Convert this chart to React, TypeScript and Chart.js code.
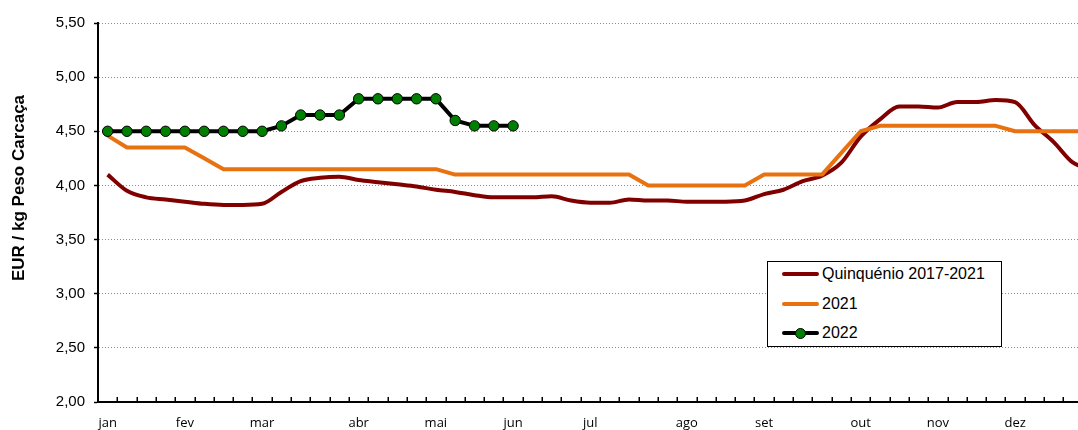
import React, { useEffect, useRef } from 'react';
import { Chart, registerables } from 'chart.js';

Chart.register(...registerables);

// ---- data ----
const WEEKS = 52;
const monthNames = ['jan', 'fev', 'mar', 'abr', 'mai', 'jun', 'jul', 'ago', 'set', 'out', 'nov', 'dez'];
const monthWeekIndex = [0, 4, 8, 13, 17, 21, 25, 30, 34, 39, 43, 47];

const quinquenio = [
  4.10, 3.95, 3.89, 3.87, 3.85, 3.83, 3.82, 3.82, 3.83, 3.94,
  4.04, 4.07, 4.08, 4.05, 4.03, 4.01, 3.99, 3.96, 3.94, 3.91,
  3.89, 3.89, 3.89, 3.90, 3.86, 3.84, 3.84, 3.87, 3.86, 3.86,
  3.85, 3.85, 3.85, 3.86, 3.92, 3.96, 4.04, 4.09, 4.21, 4.45,
  4.61, 4.73, 4.73, 4.72, 4.77, 4.77, 4.79, 4.77, 4.56, 4.40,
  4.21, 4.15,
];

const y2021 = [
  4.46, 4.35, 4.35, 4.35, 4.35, 4.25, 4.15, 4.15, 4.15, 4.15,
  4.15, 4.15, 4.15, 4.15, 4.15, 4.15, 4.15, 4.15, 4.10, 4.10,
  4.10, 4.10, 4.10, 4.10, 4.10, 4.10, 4.10, 4.10, 4.00, 4.00,
  4.00, 4.00, 4.00, 4.00, 4.10, 4.10, 4.10, 4.10, 4.30, 4.50,
  4.55, 4.55, 4.55, 4.55, 4.55, 4.55, 4.55, 4.50, 4.50, 4.50,
  4.50, 4.50,
];

const y2022 = [
  4.50, 4.50, 4.50, 4.50, 4.50, 4.50, 4.50, 4.50, 4.50, 4.55,
  4.65, 4.65, 4.65, 4.80, 4.80, 4.80, 4.80, 4.80, 4.60, 4.55,
  4.55, 4.55,
];

const seriesNames = ['Quinquénio 2017-2021', '2021', '2022'];
const yMin = 2.0;
const yMax = 5.5;
const yStep = 0.5;
const yTitle = 'EUR / kg Peso Carcaça';

// ---- styles ----
const COLOR_Q = '#800000';
const COLOR_21 = '#E8720F';
const COLOR_22_LINE = '#000000';
const COLOR_22_POINT = '#008000';

const weekLabels: string[] = Array.from({ length: WEEKS }, () => '');
monthWeekIndex.forEach((w, i) => {
  weekLabels[w] = monthNames[i];
});

const innerTicks = {
  id: 'innerTicks',
  afterDraw(chart: any) {
    const xs = chart.scales.x;
    const ctx = chart.ctx;
    const bottom = chart.chartArea.bottom;
    const p0 = xs.getPixelForValue(0);
    const step = xs.getPixelForValue(1) - p0;
    ctx.save();
    ctx.strokeStyle = '#000';
    ctx.lineWidth = 1.5;
    for (let i = 0; i <= WEEKS; i++) {
      const x = Math.round(p0 - step / 2 + i * step) + 0.25;
      ctx.beginPath();
      ctx.moveTo(x, bottom);
      ctx.lineTo(x, bottom - 5);
      ctx.stroke();
    }
    ctx.restore();
  },
};

const yTitlePlugin = {
  id: 'yTitleText',
  afterDraw(chart: any) {
    const ctx = chart.ctx;
    ctx.save();
    ctx.translate(19, 188);
    ctx.rotate(-Math.PI / 2);
    ctx.font = 'bold 17px "Liberation Sans"';
    ctx.fillStyle = '#000';
    ctx.textAlign = 'center';
    ctx.textBaseline = 'middle';
    ctx.fillText(yTitle, 0, 0);
    ctx.restore();
  },
};

const legendItems = [
  { name: seriesNames[0], color: COLOR_Q, marker: false, top: 264 },
  { name: seriesNames[1], color: COLOR_21, marker: false, top: 294 },
  { name: seriesNames[2], color: COLOR_22_LINE, marker: true, top: 323 },
];

export default function App() {
  const canvasRef = useRef<HTMLCanvasElement | null>(null);

  useEffect(() => {
    const canvas = canvasRef.current;
    if (!canvas) return;
    const chart = new Chart(canvas, {
      type: 'line',
      data: {
        labels: weekLabels,
        datasets: [
          {
            label: seriesNames[2],
            data: y2022,
            borderColor: COLOR_22_LINE,
            borderWidth: 4,
            pointRadius: 5.2,
            pointBackgroundColor: COLOR_22_POINT,
            pointBorderColor: '#000',
            pointBorderWidth: 1,
            tension: 0,
            order: 0,
          },
          {
            label: seriesNames[1],
            data: y2021,
            borderColor: COLOR_21,
            borderWidth: 4,
            pointRadius: 0,
            tension: 0,
            borderJoinStyle: 'round',
            order: 1,
          },
          {
            label: seriesNames[0],
            data: quinquenio,
            borderColor: COLOR_Q,
            borderWidth: 4,
            pointRadius: 0,
            cubicInterpolationMode: 'monotone',
            borderJoinStyle: 'round',
            order: 2,
          },
        ],
      },
      options: {
        animation: false,
        responsive: false,
        maintainAspectRatio: false,
        layout: { padding: { top: 23, right: 8, left: 0, bottom: 0 } },
        plugins: { legend: { display: false }, tooltip: { enabled: false } },
        scales: {
          x: {
            type: 'category',
            offset: true,
            grid: { display: true, drawOnChartArea: false, drawTicks: false, offset: true },
            border: { display: true, color: '#000', width: 2 },
            ticks: {
              autoSkip: false,
              maxRotation: 0,
              minRotation: 0,
              padding: 13,
              color: '#000',
              font: { family: 'Open Sans', size: 13 },
            },
            afterFit: (s: any) => {
              s.height = 48;
            },
          },
          y: {
            min: yMin,
            max: yMax,
            ticks: {
              stepSize: yStep,
              padding: 9,
              color: '#000',
              font: { family: 'Liberation Sans', size: 15 },
              callback: (v: any) => Number(v).toFixed(2).replace('.', ','),
            },
            grid: {
              color: '#8c8c8c',
              lineWidth: 1,
              tickColor: '#000',
              tickLength: 4,
              tickWidth: 1.5,
              tickBorderDash: [],
            },
            border: { display: true, color: '#000', width: 2, dash: [1, 2] },
            title: { display: false },
            afterFit: (s: any) => {
              s.width = 98;
            },
          },
        },
      } as any,
      plugins: [innerTicks, yTitlePlugin],
    });
    return () => chart.destroy();
  }, []);

  return (
    <div
      style={{
        position: 'fixed',
        left: 0,
        top: 0,
        width: 1078,
        height: 430,
        overflow: 'hidden',
        background: '#fff',
      }}
    >
      <canvas
        ref={canvasRef}
        width={1110}
        height={450}
        style={{ position: 'absolute', left: 0, top: 0, width: 1110, height: 450 }}
      />
      <div
        style={{
          position: 'absolute',
          left: 767,
          top: 261,
          width: 233,
          height: 84,
          border: '1px solid #000',
          background: '#fff',
        }}
      />
      {legendItems.map((it) => (
        <div key={it.name}>
          <div
            style={{
              position: 'absolute',
              left: 782,
              top: it.top + 8,
              width: 37,
              height: 4,
              borderRadius: 2,
              background: it.color,
            }}
          />
          {it.marker && (
            <div
              style={{
                position: 'absolute',
                left: 800 - 5.5,
                top: it.top + 10 - 5.5,
                width: 9,
                height: 9,
                borderRadius: '50%',
                background: COLOR_22_POINT,
                border: '1px solid #000',
              }}
            />
          )}
          <div
            style={{
              position: 'absolute',
              left: 822,
              top: it.top,
              height: 20,
              lineHeight: '20px',
              fontFamily: 'Liberation Sans',
              fontSize: 16,
              color: '#000',
              whiteSpace: 'nowrap',
            }}
          >
            {it.name}
          </div>
        </div>
      ))}
    </div>
  );
}
